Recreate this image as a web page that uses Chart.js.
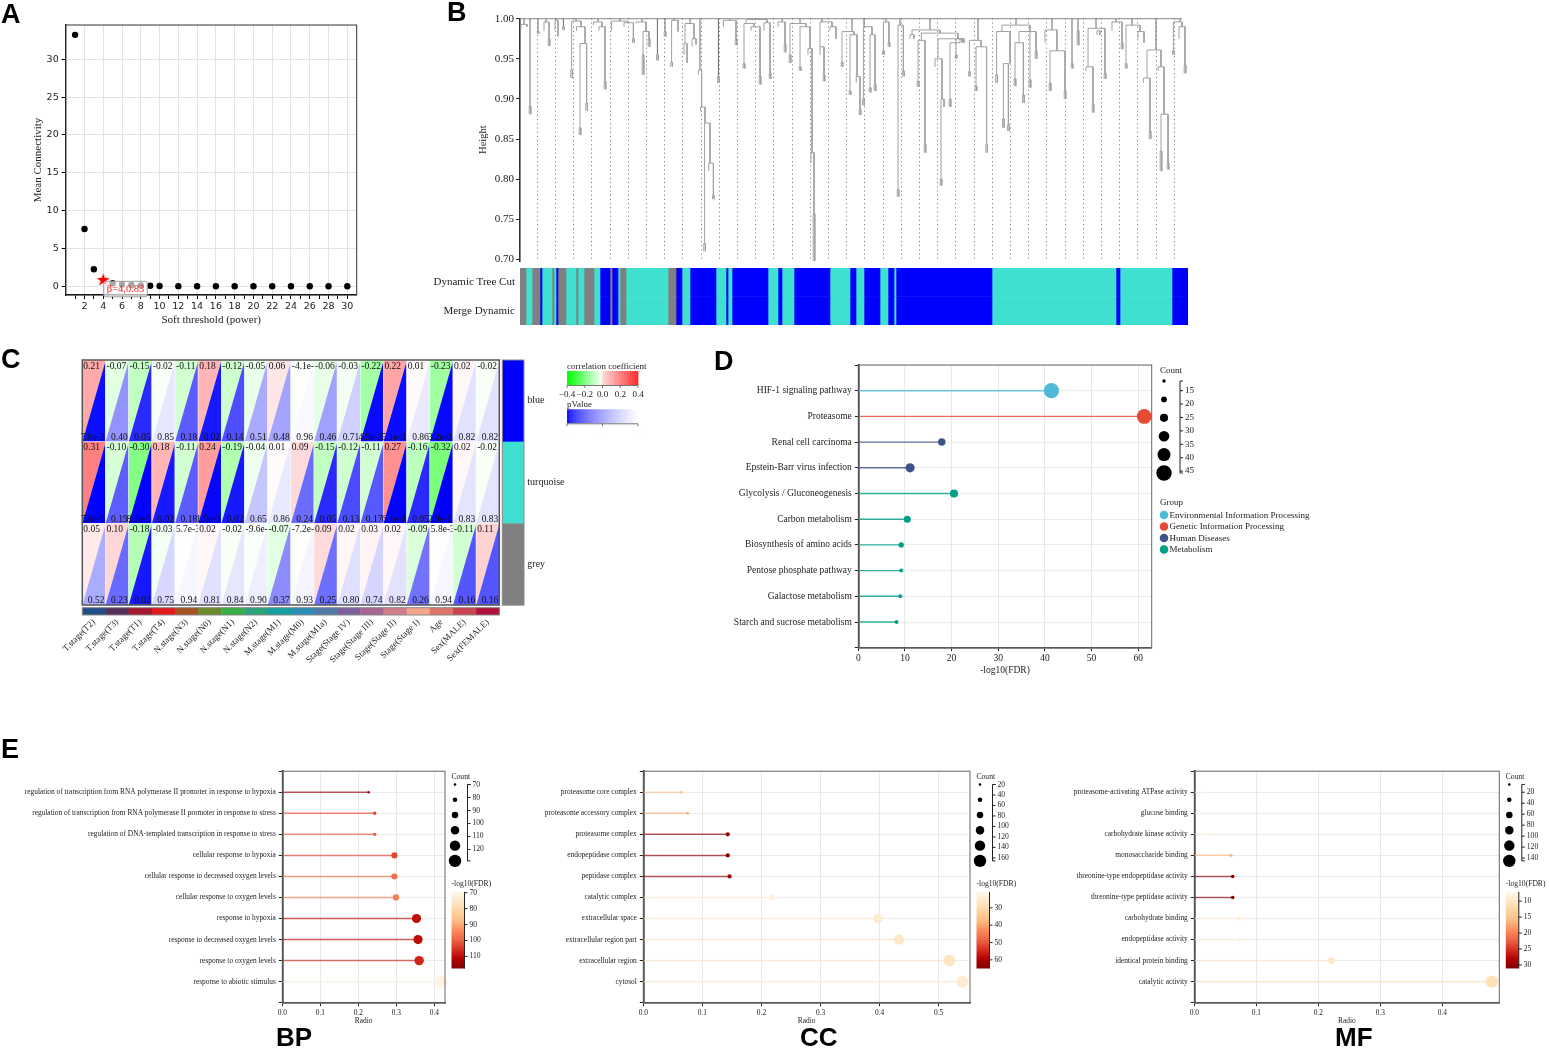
<!DOCTYPE html>
<html>
<head>
<meta charset="utf-8">
<script src="https://cdn.jsdelivr.net/npm/chart.js@4.4.0/dist/chart.umd.min.js"></script>
<style>
  body { margin: 0; background: #fff; }
  #page { position: relative; width: 1549px; height: 1049px; overflow: hidden; background: #fff; }
  canvas { position: absolute; }
  .tag { position: absolute; font: bold 27px "Liberation Sans", Arial, sans-serif; color: #000; line-height: 1; }
  .sub { position: absolute; font: bold 26px "Liberation Sans", Arial, sans-serif; color: #000; line-height: 1; }
</style>
</head>
<body>
<div id="page">
  <canvas id="cA" width="390" height="335" style="left:0;top:0"></canvas>
  <canvas id="cB" width="780" height="265" style="left:420px;top:0"></canvas>
  <canvas id="cB2" width="780" height="62" style="left:420px;top:265px"></canvas>
  <canvas id="cC" width="700" height="340" style="left:0;top:340px"></canvas>
  <canvas id="cD" width="640" height="335" style="left:700px;top:345px"></canvas>
  <canvas id="cBP" width="520" height="284" style="left:0;top:765px"></canvas>
  <canvas id="cCC" width="510" height="284" style="left:530px;top:765px"></canvas>
  <canvas id="cMF" width="509" height="284" style="left:1040px;top:765px"></canvas>

  <div class="tag" style="left:1px;top:1px">A</div>
  <div class="tag" style="left:447px;top:-1px">B</div>
  <div class="tag" style="left:1px;top:346px">C</div>
  <div class="tag" style="left:714px;top:348px">D</div>
  <div class="tag" style="left:1px;top:736px">E</div>
  <div class="sub" style="left:276px;top:1024px">BP</div>
  <div class="sub" style="left:800px;top:1024px">CC</div>
  <div class="sub" style="left:1335px;top:1024px">MF</div>
</div>
<script>
// ---------- A: soft threshold ----------
const softPower = [1, 2, 3, 4, 5, 6, 7, 8, 9, 10, 12, 14, 16, 18, 20, 22, 24, 26, 28, 30];
const meanConnectivity = [33.2, 7.6, 2.3, 0.9, 0.45, 0.3, 0.22, 0.16, 0.12, 0.09, 0.07, 0.06, 0.05, 0.05, 0.05, 0.05, 0.05, 0.05, 0.05, 0.05];
const chosenPower = 4;
const chosenLabel = 'β=4,0.83';

// ---------- B: gene dendrogram (in gene order units) ----------
// group anchors hanging from the top merge: [x, height]
const treeTops = [[2,0.993],[5,0.891],[9,0.984],[13,0.996],[18,0.998],[21.7,0.99],[28,0.997],[39,0.996],[50,0.997],[61,0.996],
  [68.7,0.955],[72.5,0.984],[77,0.998],[85,0.994],[90,0.936],[99.2,0.928],[105,0.998],[118,0.999],[131,0.996],[140,0.994],
  [151,0.996],[166,0.984],[172,0.99],[183,0.996],[190,0.992],[205,0.986],[229,0.973],[248,0.992],[266,0.986],[276,0.944],
  [279,0.985],[288,0.988],[298,0.996],[306,0.992],[318,0.961],[330,0.996]];
// merges: [left x, right x, merge height, left end, right end]
const treeLinks = [
  [0.5,3.5,0.993,0.988,0.99],[4.6,5.4,0.891,0.881,0.881],[8.6,9.4,0.984,0.981,0.981],[12,14.5,0.996,0.985,0.975],
  [14.1,14.9,0.975,0.966,0.966],[17.5,19,0.998,0.986,0.978],[21.3,22.1,0.99,0.986,0.986],[25.8,30.5,0.997,0.936,0.99],
  [25.4,26.2,0.936,0.926,0.926],[28.3,32.5,0.99,0.985,0.969],[30,33.3,0.969,0.864,0.895],[29.6,30.4,0.864,0.855,0.855],
  [32.9,33.7,0.895,0.885,0.885],[36.7,41,0.996,0.992,0.99],[39.5,42.5,0.99,0.985,0.922],[42.1,42.9,0.922,0.912,0.912],
  [45.8,54,0.997,0.985,0.995],[52,56.7,0.995,0.99,0.975],[56.3,57.1,0.975,0.97,0.97],[58,63,0.996,0.994,0.984],
  [61.5,64.5,0.984,0.955,0.975],[61.1,61.9,0.955,0.93,0.93],[64.1,64.9,0.975,0.965,0.965],[68.3,69.1,0.955,0.948,0.948],
  [72.1,72.9,0.984,0.978,0.978],[75.8,79,0.998,0.946,0.984],[75.4,76.2,0.946,0.94,0.94],[82.5,87,0.994,0.969,0.975],
  [82,83.5,0.969,0.955,0.945],[86,88,0.975,0.965,0.968],[89.2,90.8,0.936,0.93,0.89],[90.3,92.5,0.89,0.885,0.87],
  [92.3,95,0.87,0.72,0.82],[91.9,92.7,0.72,0.71,0.71],[94.4,96.7,0.82,0.81,0.78],[96.3,97.1,0.78,0.775,0.775],
  [98.8,99.6,0.928,0.92,0.92],[101.7,108,0.998,0.99,0.975],[107.6,108.4,0.975,0.967,0.967],[113,123.5,0.999,0.994,0.995],
  [112,117,0.994,0.944,0.99],[111.6,112.4,0.944,0.938,0.938],[115.5,120,0.99,0.985,0.928],[119.6,120.4,0.928,0.918,0.918],
  [122,125,0.995,0.985,0.932],[124.6,125.4,0.932,0.925,0.925],[129,132.5,0.996,0.99,0.968],[132.1,132.9,0.968,0.958,0.958],
  [135,143,0.994,0.955,0.99],[134.6,135.4,0.955,0.945,0.945],[140,145,0.99,0.94,0.963],[139.6,140.4,0.94,0.935,0.935],
  [144,146,0.963,0.955,0.833],[145.5,147,0.833,0.82,0.757],[146.6,147.4,0.757,0.698,0.698],[150,156,0.996,0.965,0.99],
  [150,152,0.965,0.955,0.93],[151.6,152.4,0.93,0.922,0.922],[155,158,0.99,0.985,0.975],[161,167,0.984,0.946,0.98],
  [160.6,161.4,0.946,0.94,0.94],[165,168.5,0.98,0.91,0.928],[164.6,165.4,0.91,0.905,0.905],[168.1,170,0.928,0.92,0.887],
  [169.6,170.4,0.887,0.88,0.88],[171.7,176,0.99,0.9,0.98],[171.3,172.1,0.9,0.892,0.892],[175,177.5,0.98,0.914,0.918],
  [174.6,175.4,0.914,0.908,0.908],[177.1,177.9,0.918,0.91,0.91],[181.7,184.5,0.996,0.96,0.97],[181.3,182.1,0.96,0.955,0.955],
  [184.1,184.9,0.97,0.965,0.965],[189,191.7,0.992,0.787,0.935],[188.6,189.4,0.787,0.778,0.778],[191.3,192.1,0.935,0.928,0.928],
  [196,210,0.986,0.98,0.982],[195,197,0.98,0.975,0.975],[200.7,219,0.982,0.973,0.975],[199,202.5,0.973,0.922,0.843],
  [198.6,199.4,0.922,0.915,0.915],[202.1,202.9,0.843,0.833,0.833],[209,221,0.975,0.95,0.97],[207.5,211,0.95,0.94,0.9],
  [210.5,212,0.9,0.8,0.89],[210.1,210.9,0.8,0.792,0.792],[215,220,0.97,0.9,0.975],[214.6,215.4,0.9,0.89,0.89],
  [218,222,0.975,0.955,0.97],[217.6,218.4,0.955,0.95,0.95],[224.7,230.5,0.973,0.934,0.965],[224.3,225.1,0.934,0.928,0.928],
  [228,233.3,0.965,0.916,0.843],[227.6,228.4,0.916,0.91,0.91],[232.9,233.7,0.843,0.833,0.833],[241,255,0.992,0.984,0.984],
  [238.3,245,0.984,0.93,0.944],[237.9,238.7,0.93,0.92,0.92],[241.7,244.2,0.944,0.875,0.868],[241.3,242.1,0.875,0.864,0.864],
  [243.8,244.6,0.868,0.86,0.86],[249.5,256.5,0.984,0.97,0.984],[247.5,251.7,0.97,0.925,0.905],[247.1,247.9,0.925,0.916,0.916],
  [251.3,252.1,0.905,0.895,0.895],[255,258,0.984,0.924,0.96],[254.6,255.4,0.924,0.914,0.914],[257.6,258.4,0.96,0.95,0.95],
  [262.5,268.5,0.986,0.97,0.96],[265,272.5,0.96,0.92,0.91],[264.6,265.4,0.92,0.91,0.91],[272.1,272.9,0.91,0.9,0.9],
  [275.6,276.4,0.944,0.938,0.938],[278.6,279.4,0.985,0.967,0.967],[284,292.5,0.988,0.94,0.932],[283,286.5,0.94,0.935,0.893],
  [286.1,286.9,0.893,0.883,0.883],[292.1,292.9,0.932,0.925,0.925],[288.5,290,0.985,0.98,0.98],[296,301,0.996,0.985,0.97],
  [300.6,301.4,0.97,0.962,0.962],[303,310,0.992,0.944,0.984],[302.6,303.4,0.944,0.938,0.938],[309,312,0.984,0.975,0.97],
  [313.5,320.5,0.961,0.926,0.94],[311.7,315,0.926,0.92,0.86],[314.6,315.4,0.86,0.85,0.85],[319,322,0.94,0.935,0.881],
  [320.5,324,0.881,0.835,0.82],[320.1,320.9,0.835,0.81,0.81],[323.6,324.4,0.82,0.812,0.812],[326.7,331,0.996,0.96,0.99],
  [326.3,327.1,0.96,0.955,0.955],[329.5,332.5,0.99,0.975,0.942],[332.1,332.9,0.942,0.932,0.932]
];
const geneTotal = 334;
const moduleRuns = ['grey','turquoise','grey','blue','turquoise','grey','turquoise','blue','grey','turquoise','grey','turquoise',
  'grey','turquoise','blue','grey','blue','turquoise','grey','turquoise','grey','blue','turquoise','blue','turquoise','blue',
  'turquoise','blue','turquoise','blue','turquoise','blue','turquoise','blue','turquoise','blue','turquoise','blue','turquoise',
  'blue','turquoise','blue','turquoise','blue'];
const moduleRunGenes = [3,3,4,1,5,1,1,1,4,5,1,3,5,3,5,1,3,1,3,21,4,3,4,13,5,1,2,18,5,2,6,18,10,3,4,8,4,3,1,48,62,2,26,8];
const colorRows = ['Dynamic Tree Cut', 'Merge Dynamic'];

// ---------- C: module-trait relationships ----------
const traitNames = ['T.stage(T2)','T.stage(T3)','T.stage(T1)','T.stage(T4)','N.stage(N3)','N.stage(N0)','N.stage(N1)','N.stage(N2)',
  'M.stage(M1)','M.stage(M0)','M.stage(M1a)','Stage(Stage IV)','Stage(Stage III)','Stage(Stage II)','Stage(Stage I)','Age','Sex(MALE)','Sex(FEMALE)'];
const moduleNames = ['blue', 'turquoise', 'grey'];
const corrBlue = [0.21,-0.07,-0.15,-0.02,-0.11,0.18,-0.12,-0.05,0.06,-4.1e-3,-0.06,-0.03,-0.22,0.22,0.01,-0.23,0.02,-0.02];
const corrTurquoise = [0.31,-0.10,-0.30,0.18,-0.11,0.24,-0.19,-0.04,0.01,0.09,-0.15,-0.12,-0.11,0.27,-0.16,-0.32,0.02,-0.02];
const corrGrey = [0.05,0.10,-0.18,-0.03,5.7e-3,0.02,-0.02,-9.6e-3,-0.07,-7.2e-3,0.09,0.02,0.03,0.02,-0.09,5.8e-3,-0.11,0.11];
const pBlue = [7.8e-3,0.40,0.05,0.85,0.18,0.02,0.14,0.51,0.48,0.96,0.46,0.71,4.9e-3,5.1e-3,0.86,3.2e-3,0.82,0.82];
const pTurquoise = [7.4e-5,0.19,8.4e-5,0.02,0.18,1.9e-3,0.02,0.65,0.86,0.24,0.05,0.13,0.17,6.1e-4,0.05,2.9e-5,0.83,0.83];
const pGrey = [0.52,0.23,0.02,0.75,0.94,0.81,0.84,0.90,0.37,0.93,0.25,0.80,0.74,0.82,0.26,0.94,0.16,0.16];
const corrTicks = ['−0.4', '−0.2', '0.0', '0.2', '0.4'];
const pTicks = ['0.0', '0.5', '1.0'];

// ---------- D: KEGG ----------
const keggTerms = ['HIF-1 signaling pathway','Proteasome','Renal cell carcinoma','Epstein-Barr virus infection','Glycolysis / Gluconeogenesis',
  'Carbon metabolism','Biosynthesis of amino acids','Pentose phosphate pathway','Galactose metabolism','Starch and sucrose metabolism'];
const keggFDR = [41.4, 61.3, 17.9, 11.1, 20.5, 10.5, 9.2, 9.2, 9.0, 8.2];
const keggCount = [45, 44, 23, 28, 25, 22, 17, 13, 13, 13];
const keggGroup = ['Environmental Information Processing','Genetic Information Processing','Human Diseases','Human Diseases',
  'Metabolism','Metabolism','Metabolism','Metabolism','Metabolism','Metabolism'];
const keggGroups = ['Environmental Information Processing','Genetic Information Processing','Human Diseases','Metabolism'];
const keggCountTicks = [15, 20, 25, 30, 35, 40, 45];
const keggXTicks = [0, 10, 20, 30, 40, 50, 60];

// ---------- E: GO ----------
const bpTerms = ['regulation of transcription from RNA polymerase II promoter in response to hypoxia',
  'regulation of transcription from RNA polymerase II promoter in response to stress',
  'regulation of DNA-templated transcription in response to stress','cellular response to hypoxia',
  'cellular response to decreased oxygen levels','cellular response to oxygen levels','response to hypoxia',
  'response to decreased oxygen levels','response to oxygen levels','response to abiotic stimulus'];
const bpRadio = [0.227, 0.243, 0.243, 0.295, 0.295, 0.299, 0.353, 0.357, 0.36, 0.418];
const bpCount = [70, 75, 75, 91, 91, 92, 109, 110, 111, 129];
const bpFDR = [113, 103, 101, 103, 98, 96, 110, 110, 107, 71];
const ccTerms = ['proteasome core complex','proteasome accessory complex','proteasome complex','endopeptidase complex',
  'peptidase complex','catalytic complex','extracellular space','extracellular region part','extracellular region','cytosol'];
const ccRadio = [0.065, 0.075, 0.143, 0.143, 0.146, 0.218, 0.397, 0.433, 0.518, 0.54];
const ccCount = [20, 23, 44, 44, 45, 67, 122, 133, 160, 166];
const ccFDR = [36, 39, 63.5, 63.5, 62, 23, 25, 26.5, 27, 25];
const mfTerms = ['proteasome-activating ATPase activity','glucose binding','carbohydrate kinase activity','monosaccharide binding',
  'threonine-type endopeptidase activity','threonine-type peptidase activity','carbohydrate binding','endopeptidase activity',
  'identical protein binding','catalytic activity'];
const mfRadio = [0.016, 0.02, 0.026, 0.059, 0.062, 0.062, 0.073, 0.073, 0.221, 0.48];
const mfCount = [5, 6, 8, 18, 19, 19, 22, 22, 66, 144];
const mfFDR = [8.3, 8.3, 8.5, 16.2, 30.4, 30.4, 9, 8.3, 10.2, 11.2];
const bpCountTicks = [70, 80, 90, 100, 110, 120];
const ccCountTicks = [20, 40, 60, 80, 100, 120, 140, 160];
const mfCountTicks = [20, 40, 60, 80, 100, 120, 140];
const bpFdrTicks = [70, 80, 90, 100, 110];
const ccFdrTicks = [30, 40, 50, 60];
const mfFdrTicks = [10, 15, 20, 25, 30];

// ---------- shared ----------
const SERIF = '"Liberation Serif", "Times New Roman", serif';
const SANS = '"DejaVu Sans", "Liberation Sans", sans-serif';
Chart.defaults.font.family = SERIF;
Chart.defaults.color = '#222';
Chart.defaults.animation = false;
Chart.defaults.responsive = false;
Chart.defaults.events = [];
Chart.defaults.plugins.legend.display = false;
Chart.defaults.plugins.tooltip.enabled = false;

const moduleColor = { blue: '#0000ff', turquoise: '#40e0d0', grey: '#808080' };
const groupColor = {
  'Environmental Information Processing': '#4dbbd5',
  'Genetic Information Processing': '#e64b35',
  'Human Diseases': '#3c5488',
  'Metabolism': '#00a087'
};
const orrd = ['#fff7ec','#fee8c8','#fdd49e','#fdbb84','#fc8d59','#ef6548','#d7301f','#b30000','#7f0000'];

function hexRgb(h) { return [1, 3, 5].map(i => parseInt(h.slice(i, i + 2), 16)); }
function ramp(stops, t) {
  t = Math.max(0, Math.min(1, t));
  const p = t * (stops.length - 1);
  const i = Math.min(Math.floor(p), stops.length - 2);
  const f = p - i;
  const a = hexRgb(stops[i]), b = hexRgb(stops[i + 1]);
  return a.map((v, k) => Math.round(v + (b[k] - v) * f));
}
const rgba = (c, a) => `rgba(${c[0]},${c[1]},${c[2]},${a})`;
// fixed axis sizes; drop the label overhang padding so the plot area lands where we put it
const fixW = w => s => { s.width = w; s.paddingTop = 0; s.paddingBottom = 0; };
const fixH = h => s => { s.height = h; s.paddingLeft = 0; s.paddingRight = 0; };

function framePlugin(color, width) {
  return {
    id: 'frame',
    afterDatasetsDraw(c) {
      const a = c.chartArea, x = c.ctx;
      x.save();
      x.strokeStyle = color;
      x.lineWidth = width;
      x.strokeRect(a.left, a.top, a.right - a.left, a.bottom - a.top);
      x.restore();
    }
  };
}

// ---------- A ----------
const starImg = document.createElement('canvas');
starImg.width = 14; starImg.height = 14;
(function () {
  const g = starImg.getContext('2d');
  g.fillStyle = '#ff0000';
  g.beginPath();
  for (let k = 0; k < 10; k++) {
    const r = k % 2 ? 2.7 : 6.8;
    const a = -Math.PI / 2 + k * Math.PI / 5;
    g.lineTo(7 + r * Math.cos(a), 7.3 + r * Math.sin(a));
  }
  g.closePath();
  g.fill();
})();

const betaLabel = {
  id: 'betaLabel',
  afterDatasetsDraw(c) {
    const x = c.scales.x, y = c.scales.y, g = c.ctx;
    const i = softPower.indexOf(chosenPower);
    const px = x.getPixelForValue(chosenPower) + 0.5;
    const py = y.getPixelForValue(meanConnectivity[i]) + 1.5;
    g.save();
    g.font = '10.5px ' + SERIF;
    const w = g.measureText(chosenLabel).width + 6;
    g.fillStyle = 'rgba(255,255,255,0.65)';
    g.strokeStyle = '#9a9a9a';
    g.lineWidth = 1;
    g.beginPath();
    g.roundRect(px, py, w, 15.5, 2);
    g.fill(); g.stroke();
    g.fillStyle = '#ff1a1a';
    g.textBaseline = 'middle';
    g.fillText(chosenLabel, px + 3, py + 8.3);
    g.restore();
  }
};

new Chart(document.getElementById('cA'), {
  type: 'scatter',
  data: {
    datasets: [{
      data: softPower.map((p, i) => ({ x: p, y: meanConnectivity[i] })),
      pointStyle: softPower.map(p => p === chosenPower ? starImg : 'circle'),
      pointRadius: 3.2,
      pointBackgroundColor: '#000',
      pointBorderWidth: 0,
      clip: false
    }]
  },
  options: {
    layout: { padding: { left: 28, top: 25, right: 33.3, bottom: 0 } },
    scales: {
      x: {
        type: 'linear', min: 0, max: 31,
        afterBuildTicks: a => { a.ticks = []; for (let v = 1; v <= 30; v++) a.ticks.push({ value: v }); },
        ticks: { callback: v => v % 2 === 0 ? v : '', font: { family: SANS, size: 9.5 }, color: '#222', padding: 2, autoSkip: false, maxRotation: 0 },
        grid: { color: c => (c.tick && c.tick.value % 2 === 0) ? '#e4e4e4' : 'rgba(0,0,0,0)', tickColor: '#000', tickLength: 4 },
        border: { color: '#000', width: 1.3 },
        title: { display: true, text: 'Soft threshold (power)', font: { size: 11 }, padding: { top: 0, bottom: 8 } },
        afterFit: fixH(40)
      },
      y: {
        type: 'linear', min: -1.1, max: 34.5,
        afterBuildTicks: a => { a.ticks = [0, 5, 10, 15, 20, 25, 30].map(v => ({ value: v })); },
        ticks: { font: { family: SANS, size: 9.5 }, color: '#222', padding: 3 },
        grid: { color: '#e4e4e4', tickColor: '#000', tickLength: 4 },
        border: { color: '#000', width: 1.3 },
        title: { display: true, text: 'Mean Connectivity', font: { size: 11 }, padding: { top: 4, bottom: 0 } },
        afterFit: fixW(37.7)
      }
    }
  },
  plugins: [framePlugin('#333', 1), betaLabel]
});

// ---------- B ----------
const treeLines = [];
for (const l of treeLinks) {
  const [xl, xr, h, bl, br] = l;
  treeLines.push({ x: xl, y: bl }, { x: xl, y: h }, { x: xr, y: h }, { x: xr, y: br }, { x: xr, y: null });
}
const topLines = [];
for (let i = 0; i < treeTops.length; i++) {
  const [xa, ha] = treeTops[i];
  topLines.push({ x: xa, y: ha }, { x: xa, y: 1.0 }, { x: xa, y: null });
}
topLines.push({ x: treeTops[0][0] - 1.5, y: 1.0 }, { x: treeTops[treeTops.length - 1][0] + 1, y: 1.0 });

new Chart(document.getElementById('cB'), {
  type: 'scatter',
  data: {
    datasets: [
      { data: treeLines, showLine: true, spanGaps: false, borderColor: '#a0a0a0', borderWidth: 1, pointRadius: 0 },
      { data: topLines, showLine: true, spanGaps: false, borderColor: '#6a6a6a', borderWidth: 1, pointRadius: 0 }
    ]
  },
  options: {
    layout: { padding: { left: 0, top: 18.3, right: 12, bottom: 4 } },
    scales: {
      x: {
        type: 'linear', min: 0, max: geneTotal,
        afterBuildTicks: a => { a.ticks = []; for (let k = 0; k < 36; k++) a.ticks.push({ value: 8.65 + 9.1 * k }); },
        ticks: { display: false },
        grid: { color: '#6f6f6f', lineWidth: 1, drawTicks: false },
        border: { display: false, dash: [1, 3.2] },
        afterFit: fixH(0)
      },
      y: {
        type: 'linear', min: 0.698, max: 1.0005,
        afterBuildTicks: a => { a.ticks = [0.70, 0.75, 0.80, 0.85, 0.90, 0.95, 1.00].map(v => ({ value: v })); },
        ticks: { callback: v => v.toFixed(2), font: { size: 11 }, color: '#222', padding: 2 },
        grid: { display: true, drawOnChartArea: false, tickColor: '#222', tickLength: 4 },
        border: { color: '#333', width: 1.6 },
        title: { display: true, text: 'Height', font: { size: 10.5 }, padding: { top: 56.7, bottom: 0 } },
        afterFit: fixW(100)
      }
    }
  }
});

new Chart(document.getElementById('cB2'), {
  type: 'bar',
  data: {
    labels: colorRows,
    datasets: moduleRuns.map((m, i) => ({
      data: colorRows.map(() => moduleRunGenes[i]),
      backgroundColor: moduleColor[m],
      borderWidth: 0,
      barPercentage: 1,
      categoryPercentage: 1,
      stack: 'modules'
    }))
  },
  options: {
    indexAxis: 'y',
    layout: { padding: { left: 0, top: 3, right: 12, bottom: 2 } },
    scales: {
      x: { stacked: true, min: 0, max: geneTotal, display: false },
      y: {
        stacked: true,
        grid: { display: false, drawTicks: false },
        border: { display: false },
        ticks: { font: { size: 11 }, color: '#222', padding: 5 },
        afterFit: fixW(100)
      }
    }
  }
});

// ---------- C ----------
const corrRows = [corrBlue, corrTurquoise, corrGrey];
const pRows = [pBlue, pTurquoise, pGrey];
const traitColors = ['#1f4e86','#55305a','#a3182f','#e31a1c','#a65324','#6b8a2c','#39ad48','#2aa37a','#14a0a0','#2b8db4',
  '#4e79a7','#7e5f9c','#a6668f','#cf7e8c','#f3a48b','#e07368','#c94352','#b0103a'];

function corrColor(v) {
  const t = Math.min(Math.abs(v) / 0.62, 1);
  const w = Math.round(255 * (1 - t));
  return v >= 0 ? `rgb(255,${w},${w})` : `rgb(${w},255,${w})`;
}
function pColor(p) {
  const w = Math.round(255 * Math.pow(p, 0.6));
  return `rgb(${w},${w},255)`;
}
const fmt = v => Math.abs(v) >= 0.01 ? v.toFixed(2) : v.toExponential(1);

const heatPlugin = {
  id: 'heat',
  beforeDatasetsDraw(c) {
    const g = c.ctx, xs = c.scales.x, ys = c.scales.y, a = c.chartArea;
    const cw = (a.right - a.left) / traitNames.length;
    const rh = (a.bottom - a.top) / moduleNames.length;
    g.save();
    moduleNames.forEach((m, r) => {
      const yc = ys.getPixelForValue(r);
      const y0 = yc - rh / 2, y1 = yc + rh / 2;
      traitNames.forEach((t, k) => {
        const xc = xs.getPixelForValue(k);
        const x0 = xc - cw / 2, x1 = xc + cw / 2;
        g.fillStyle = corrColor(corrRows[r][k]);
        g.beginPath(); g.moveTo(x0, y0); g.lineTo(x1 + 0.3, y0); g.lineTo(x0, y1 + 0.3); g.closePath(); g.fill();
        g.fillStyle = pColor(pRows[r][k]);
        g.beginPath(); g.moveTo(x1 + 0.3, y0); g.lineTo(x1 + 0.3, y1 + 0.3); g.lineTo(x0, y1 + 0.3); g.closePath(); g.fill();
        g.strokeStyle = 'rgba(255,255,255,0.7)';
        g.lineWidth = 0.6;
        g.strokeRect(x0, y0, cw, rh);
        g.fillStyle = '#111';
        g.font = '9.5px ' + SERIF;
        g.textAlign = 'left'; g.textBaseline = 'top';
        g.fillText(fmt(corrRows[r][k]), x0 + 1, y0 + 1.5);
        g.textAlign = 'right'; g.textBaseline = 'bottom';
        g.fillText(fmt(pRows[r][k]), x1 - 1, y1 + 0.5);
      });
    });
    g.strokeStyle = '#555'; g.lineWidth = 1.5;
    g.strokeRect(a.left, a.top, a.right - a.left, a.bottom - a.top);
    // trait colour bar
    traitNames.forEach((t, k) => {
      const xc = xs.getPixelForValue(k);
      g.fillStyle = traitColors[k];
      g.fillRect(xc - cw / 2, a.bottom + 2.7, cw + 0.4, 7.3);
    });
    g.strokeStyle = '#888'; g.lineWidth = 1;
    g.strokeRect(a.left, a.bottom + 2.7, a.right - a.left, 7.3);
    // module colour bar
    moduleNames.forEach((m, r) => {
      const yc = ys.getPixelForValue(r);
      g.fillStyle = moduleColor[m];
      g.fillRect(a.right + 3, yc - rh / 2, 21.7, rh + 0.4);
    });
    g.strokeRect(a.right + 3, a.top, 21.7, a.bottom - a.top);
    // legends
    const lx = 567, lw = 71;
    g.font = '9px ' + SERIF;
    g.fillStyle = '#222'; g.textAlign = 'left'; g.textBaseline = 'alphabetic';
    g.fillText('correlation coefficient', lx, 29);
    const steps = 24;
    for (let s = 0; s < steps; s++) {
      const v = -0.4 + 0.8 * (s + 0.5) / steps;
      const t = Math.abs(v) / 0.4;
      const w = Math.round(255 * (1 - t));
      g.fillStyle = v >= 0 ? `rgb(255,${Math.round(w * 0.85 + 40 * t)},${Math.round(w * 0.85 + 40 * t)})` : `rgb(${w},255,${w})`;
      g.fillRect(lx + lw * s / steps, 31, lw / steps + 0.4, 14);
    }
    g.strokeStyle = '#777'; g.lineWidth = 1;
    g.beginPath(); g.moveTo(lx, 45.5); g.lineTo(lx + lw, 45.5); g.stroke();
    g.fillStyle = '#222'; g.textAlign = 'center'; g.textBaseline = 'top';
    corrTicks.forEach((t, i) => {
      const tx = lx + lw * i / (corrTicks.length - 1);
      g.beginPath(); g.moveTo(tx, 45.5); g.lineTo(tx, 48); g.stroke();
      g.fillText(t, tx, 50);
    });
    g.textAlign = 'left'; g.textBaseline = 'alphabetic';
    g.fillText('pValue', lx, 67);
    for (let s = 0; s < steps; s++) {
      const p = (s + 0.5) / steps;
      const w = Math.round(255 * Math.pow(p, 0.6));
      g.fillStyle = `rgb(${w},${w},255)`;
      g.fillRect(lx + lw * s / steps, 69.3, lw / steps + 0.4, 14);
    }
    g.beginPath(); g.moveTo(lx, 83.8); g.lineTo(lx + lw, 83.8); g.stroke();
    g.textAlign = 'center'; g.textBaseline = 'top';
    pTicks.forEach((t, i) => {
      const tx = lx + lw * i / (pTicks.length - 1);
      g.beginPath(); g.moveTo(tx, 83.8); g.lineTo(tx, 86.3); g.stroke();
      g.fillText(t, tx, 88);
    });
    g.restore();
  }
};

new Chart(document.getElementById('cC'), {
  type: 'scatter',
  data: { datasets: [{ data: [] }] },
  options: {
    layout: { padding: { left: 82.3, top: 20, right: 0, bottom: 0 } },
    scales: {
      x: {
        type: 'category', labels: traitNames, offset: true,
        grid: { display: false, drawTicks: false }, border: { display: false },
        ticks: { minRotation: 45, maxRotation: 45, autoSkip: false, padding: 12, font: { size: 9 }, color: '#222' },
        afterFit: fixH(75)
      },
      y: {
        type: 'category', labels: moduleNames, offset: true, position: 'right',
        grid: { display: false, drawTicks: false }, border: { display: false },
        ticks: { padding: 28, font: { size: 10 }, color: '#222' },
        afterFit: fixW(200.7)
      }
    }
  },
  plugins: [heatPlugin]
});

// ---------- lollipop charts (D, E) ----------
function drawSizeLegend(g, d, a) {
  const right = a.right, top = a.top;
  const L = d.legend;
  const [c0, c1] = d.countRange;
  const yT = top + L.bracketTop, yB = top + L.bracketBottom;
  g.save();
  g.fillStyle = '#222';
  g.font = L.font + 'px ' + SERIF;
  g.textAlign = 'left'; g.textBaseline = 'middle';
  g.fillText('Count', right + L.titleX, top + L.titleY);
  for (let i = 0; i < 6; i++) {
    const f = i / 5;
    g.fillStyle = '#000';
    g.beginPath();
    g.arc(right + L.dotX, yT + f * (yB - yT), d.rMin + f * (d.rMax - d.rMin), 0, Math.PI * 2);
    g.fill();
  }
  g.strokeStyle = '#222'; g.lineWidth = 1;
  const bx = right + L.bracketX;
  g.beginPath(); g.moveTo(bx + 3, yT); g.lineTo(bx, yT); g.lineTo(bx, yB); g.lineTo(bx + 3, yB); g.stroke();
  g.fillStyle = '#222';
  d.countTicks.forEach(v => {
    const ty = yT + (v - c0) / (c1 - c0) * (yB - yT);
    g.beginPath(); g.moveTo(bx, ty); g.lineTo(bx + 3, ty); g.stroke();
    g.fillText(String(v), bx + 5, ty);
  });
  g.restore();
}
function drawFdrLegend(g, d, a) {
  const right = a.right, top = a.top, L = d.legend;
  const [f0, f1] = d.fdrRange;
  const x0 = right + L.barX0, x1 = right + L.barX1;
  const y0 = top + L.barTop, y1 = top + L.barBottom;
  g.save();
  g.font = L.font + 'px ' + SERIF;
  g.fillStyle = '#222'; g.textAlign = 'left'; g.textBaseline = 'middle';
  g.fillText('-log10(FDR)', right + L.titleX, top + L.barTitleY);
  const grad = g.createLinearGradient(0, y0, 0, y1);
  orrd.forEach((c, i) => grad.addColorStop(i / (orrd.length - 1), c));
  g.fillStyle = grad;
  g.fillRect(x0, y0, x1 - x0, y1 - y0);
  g.strokeStyle = '#222'; g.lineWidth = 1;
  g.beginPath(); g.moveTo(x1, y0); g.lineTo(x1, y1); g.stroke();
  g.fillStyle = '#222';
  d.fdrTicks.forEach(v => {
    const ty = y0 + (v - f0) / (f1 - f0) * (y1 - y0);
    g.beginPath(); g.moveTo(x1, ty); g.lineTo(x1 + 3, ty); g.stroke();
    g.fillText(String(v), right + L.barLabelX, ty);
  });
  g.restore();
}
function drawGroupLegend(g, d, a) {
  const right = a.right, top = a.top, L = d.legend;
  g.save();
  g.font = L.font + 'px ' + SERIF;
  g.fillStyle = '#222'; g.textAlign = 'left'; g.textBaseline = 'middle';
  g.fillText('Group', right + L.titleX, top + L.groupTitleY);
  keggGroups.forEach((name, i) => {
    const yy = top + L.groupY + i * 11.5;
    g.fillStyle = groupColor[name];
    g.beginPath(); g.arc(right + L.dotX, yy, 4.3, 0, Math.PI * 2); g.fill();
    g.fillStyle = '#222';
    g.fillText(name, right + L.dotX + 5.5, yy + 0.5);
  });
  g.restore();
}

function lollipop(id, d) {
  const radius = c => d.rMin + (c - d.countRange[0]) / (d.countRange[1] - d.countRange[0]) * (d.rMax - d.rMin);
  const stems = d.values.map((v, i) => ({
    data: [{ x: 0, y: i + 1 }, { x: v, y: i + 1 }],
    showLine: true, borderColor: d.stemColors[i], borderWidth: d.stemWidth, pointRadius: 0
  }));
  const dots = {
    data: d.values.map((v, i) => ({ x: v, y: i + 1 })),
    pointRadius: d.counts.map(radius),
    pointBackgroundColor: d.dotColors,
    pointBorderWidth: 0,
    clip: false
  };
  const legendPlugin = {
    id: 'lolliLegend',
    afterDraw(c) {
      drawSizeLegend(c.ctx, d, c.chartArea);
      if (d.groups) drawGroupLegend(c.ctx, d, c.chartArea);
      else drawFdrLegend(c.ctx, d, c.chartArea);
    }
  };
  return new Chart(document.getElementById(id), {
    type: 'scatter',
    data: { datasets: [...stems, dots] },
    options: {
      layout: { padding: { left: 0, top: d.padTop, right: d.padRight, bottom: 0 } },
      scales: {
        x: {
          type: 'linear', min: 0, max: d.xMax,
          afterBuildTicks: a => { a.ticks = d.xTicks.map(v => ({ value: v })); },
          ticks: { callback: d.xFormat, font: { size: d.font }, color: '#222', padding: 2, maxRotation: 0 },
          grid: { color: '#e8e8e8', tickColor: '#222', tickLength: 3.5 },
          border: { color: '#222', width: 1.6 },
          title: { display: true, text: d.xTitle, font: { size: d.font }, padding: { top: 0, bottom: d.titlePad } },
          afterFit: fixH(d.xHeight)
        },
        y: {
          type: 'linear', min: 0, max: 11, reverse: true,
          afterBuildTicks: a => { a.ticks = []; for (let v = 0; v <= 11; v++) a.ticks.push({ value: v }); },
          ticks: { callback: v => d.terms[v - 1] || '', font: { size: d.font }, color: '#222', padding: 3, autoSkip: false },
          grid: { color: '#ececec', tickColor: '#222', tickLength: 3.5 },
          border: { color: '#222', width: 1.6 },
          afterFit: fixW(d.yWidth)
        }
      }
    },
    plugins: [framePlugin('#666', 1), legendPlugin]
  });
}

// D
lollipop('cD', {
  terms: keggTerms, values: keggFDR, counts: keggCount,
  dotColors: keggGroup.map(gn => groupColor[gn]),
  stemColors: keggGroup.map(gn => rgba(hexRgb(groupColor[gn]), 0.8)),
  stemWidth: 1.4, groups: true,
  countRange: [11.4, 45.7], countTicks: keggCountTicks, rMin: 1.7, rMax: 7.7,
  xMax: 62.9, xTicks: keggXTicks, xFormat: v => v, xTitle: '-log10(FDR)',
  font: 9.5, yWidth: 158.3, padRight: 188.3, padTop: 20, xHeight: 32.3, titlePad: 4.3,
  legend: { font: 9, titleX: 8.3, titleY: 6, dotX: 12.3, bracketX: 28.3, bracketTop: 16, bracketBottom: 108, groupTitleY: 138, groupY: 150 }
});

function goPanel(id, terms, values, counts, fdr, fdrRange, fdrTicks, countRange, countTicks, xMax, xTicks, yWidth, padRight) {
  const cols = fdr.map(v => ramp(orrd, (v - fdrRange[0]) / (fdrRange[1] - fdrRange[0])));
  lollipop(id, {
    terms, values, counts,
    dotColors: cols.map(c => rgba(c, 1)),
    stemColors: cols.map(c => rgba(c, 0.65)),
    stemWidth: 1.5,
    countRange, countTicks, rMin: 1.3, rMax: 6.2,
    fdrRange, fdrTicks,
    xMax, xTicks, xFormat: v => v.toFixed(1), xTitle: 'Radio',
    font: 7.4, yWidth, padRight, padTop: 6, xHeight: 46.3, titlePad: 23.5,
    legend: { font: 7.6, titleX: 6.5, titleY: 6, dotX: 10, bracketX: 22.5, bracketTop: 13.3, bracketBottom: 89.7,
      barTitleY: 113, barX0: 6.5, barX1: 19.5, barTop: 120.7, barBottom: 197.3, barLabelX: 24.5 }
  });
}
goPanel('cBP', bpTerms, bpRadio, bpCount, bpFDR, [69.5, 117.6], bpFdrTicks, [70, 128.8], bpCountTicks, 0.428, [0, 0.1, 0.2, 0.3, 0.4], 282.3, 75);
goPanel('cCC', ccTerms, ccRadio, ccCount, ccFDR, [20.8, 65], ccFdrTicks, [20, 165.8], ccCountTicks, 0.553, [0, 0.1, 0.2, 0.3, 0.4, 0.5], 113.3, 70);
goPanel('cMF', mfTerms, mfRadio, mfCount, mfFDR, [7.1, 31.1], mfFdrTicks, [5.8, 145], mfCountTicks, 0.492, [0, 0.1, 0.2, 0.3, 0.4], 154.3, 49.7);
</script>
</body>
</html>
